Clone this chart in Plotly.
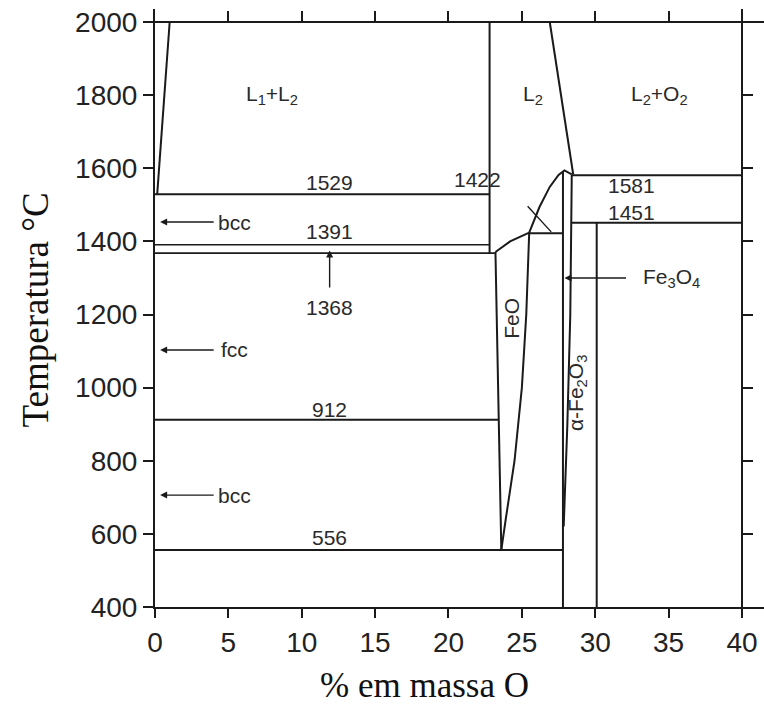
import plotly.graph_objects as go

# ---------------- data (wt% O, temperature degC) ----------------
# isotherms
iso_T = [1529, 1391, 1368, 912, 556, 1422, 1581, 1451]
iso_x0 = [0, 0, 0, 0, 0, 25.5, 28.4, 28.4]
iso_x1 = [22.8, 22.8, 23.2, 23.4, 27.8, 27.8, 40, 40]

# phase boundary curves
fe_liq_x = [0.15, 1.0]
fe_liq_T = [1529, 2000]
gap_right_x = [22.8, 22.8]
gap_right_T = [1368, 2000]
wus_liq_x = [23.2, 24.2, 25.5]
wus_liq_T = [1371, 1400, 1424]
wus_left_x = [23.2, 23.4, 23.6]
wus_left_T = [1371, 912, 556]
wus_right_x = [25.5, 25.3, 25.0, 24.5, 23.9, 23.6]
wus_right_T = [1424, 1200, 1000, 800, 640, 556]
mag_liq_x = [25.5, 26.2, 26.9, 27.5, 27.9, 28.4]
mag_liq_T = [1424, 1494, 1549, 1582, 1594, 1583]
l2_x = [26.9, 28.5]
l2_T = [2000, 1583]
mag_left_x = [27.8, 27.8]
mag_left_T = [1592, 400]
mag_right_x = [28.4, 28.3, 28.1, 27.95, 27.85]
mag_right_T = [1583, 1200, 900, 720, 620]
hem_x = [30.1, 30.1]
hem_T = [1451, 400]

# labels
lab_text = ["L<sub>1</sub>+L<sub>2</sub>", "L<sub>2</sub>", "L<sub>2</sub>+O<sub>2</sub>",
            "1529", "1391", "1368", "912", "556", "1422", "1581", "1451",
            "bcc", "fcc", "bcc", "Fe<sub>3</sub>O<sub>4</sub>"]
lab_x = [8.0, 25.75, 34.4, 11.9, 11.9, 11.9, 11.9, 11.9, 22.0, 32.5, 32.5, 5.4, 5.4, 5.4, 35.2]
lab_T = [1800, 1800, 1800, 1560, 1426, 1218, 939, 591, 1568, 1554, 1480, 1453, 1103, 706, 1300]

rot_text = ["FeO", "α-Fe<sub>2</sub>O<sub>3</sub>"]
rot_x = [24.3, 28.75]
rot_T = [1190, 985]

# arrows: (tip_x, tip_T, tail_x, tail_T, head)
arr_tip_x = [0.35, 0.35, 0.35, 11.9, 27.9, 27.0]
arr_tip_T = [1453, 1103, 706, 1375, 1300, 1426]
arr_tail_x = [4.1, 4.1, 4.1, 11.9, 32.2, 25.3]
arr_tail_T = [1453, 1103, 706, 1270, 1300, 1500]
arr_head = [2, 2, 2, 2, 2, 0]

x_ticks = [0, 5, 10, 15, 20, 25, 30, 35, 40]
y_ticks = [400, 600, 800, 1000, 1200, 1400, 1600, 1800, 2000]

x_title = "% em massa O"
y_title = "Temperatura °C"

XR = [0, 41.5]
YR = [400, 2035.6]
INK = "#1a1a1a"

fig = go.Figure()

def add_line(xs, ys, w=2.0):
    fig.add_trace(go.Scatter(x=xs, y=ys, mode="lines",
                             line=dict(color=INK, width=w),
                             hoverinfo="skip", showlegend=False))

for T, a, b in zip(iso_T, iso_x0, iso_x1):
    add_line([a, b], [T, T], 2.0 if T not in (1391, 1368) else 1.6)

for xs, ys in [(fe_liq_x, fe_liq_T), (gap_right_x, gap_right_T),
               (wus_liq_x, wus_liq_T), (wus_left_x, wus_left_T),
               (wus_right_x, wus_right_T), (mag_liq_x, mag_liq_T),
               (l2_x, l2_T), (mag_left_x, mag_left_T),
               (mag_right_x, mag_right_T), (hem_x, hem_T)]:
    add_line(xs, ys, 2.0)

# invisible trace on the secondary axes so they are drawn
fig.add_trace(go.Scatter(x=[None], y=[None], xaxis="x2", yaxis="y2",
                         mode="lines", showlegend=False, hoverinfo="skip"))

lab_font = dict(family="Liberation Sans", size=21, color="#2a2a2a")
annotations = []
for t, x, y in zip(lab_text, lab_x, lab_T):
    annotations.append(dict(x=x, y=y, text=t, showarrow=False, font=lab_font))
for t, x, y in zip(rot_text, rot_x, rot_T):
    annotations.append(dict(x=x, y=y, text=t, showarrow=False, textangle=-90, font=lab_font))
for tx, ty, ax, ay, h in zip(arr_tip_x, arr_tip_T, arr_tail_x, arr_tail_T, arr_head):
    annotations.append(dict(x=tx, y=ty, ax=ax, ay=ay, axref="x", ayref="y",
                            text="", showarrow=True, arrowhead=h, arrowsize=1,
                            arrowwidth=1.4, arrowcolor=INK))

annotations.append(dict(xref="paper", yref="paper", x=0.443, y=-0.131,
                        xanchor="center", yanchor="middle", text=x_title,
                        showarrow=False,
                        font=dict(family="Liberation Serif", size=35, color="#111")))
annotations.append(dict(xref="paper", yref="paper", x=-0.196, y=0.497,
                        xanchor="center", yanchor="middle", text=y_title,
                        textangle=-90, showarrow=False,
                        font=dict(family="Liberation Serif", size=37, color="#111")))

axis_font = dict(family="Liberation Sans", size=28, color="#222")

fig.update_layout(
    width=764, height=706,
    margin=dict(l=155, r=0, t=9, b=99),
    paper_bgcolor="white", plot_bgcolor="white",
    showlegend=False,
    annotations=annotations,
    xaxis=dict(range=XR, tickvals=x_ticks, ticktext=[str(v) for v in x_ticks],
               showgrid=False, zeroline=False, showline=True, linecolor=INK, linewidth=2,
               ticks="outside", ticklen=9, tickwidth=2, tickcolor=INK,
               tickfont=axis_font),
    yaxis=dict(range=YR, tickvals=y_ticks, ticktext=[str(v) for v in y_ticks],
               showgrid=False, zeroline=False, showline=True, linecolor=INK, linewidth=2,
               ticks="outside", ticklen=10, tickwidth=2, tickcolor=INK,
               tickfont=axis_font),
    xaxis2=dict(range=XR, overlaying="x", side="top", anchor="free",
                position=(2000 - YR[0]) / (YR[1] - YR[0]),
                tickvals=x_ticks[1:], showticklabels=False,
                showgrid=False, zeroline=False, showline=True, linecolor=INK, linewidth=2,
                ticks="outside", ticklen=10, tickwidth=2, tickcolor=INK),
    yaxis2=dict(range=YR, overlaying="y", side="right", anchor="free",
                position=40 / XR[1],
                tickvals=y_ticks[1:-1], showticklabels=False,
                showgrid=False, zeroline=False, showline=True, linecolor=INK, linewidth=2,
                ticks="outside", ticklen=10, tickwidth=2, tickcolor=INK),
)

fig.write_html("out.html")
